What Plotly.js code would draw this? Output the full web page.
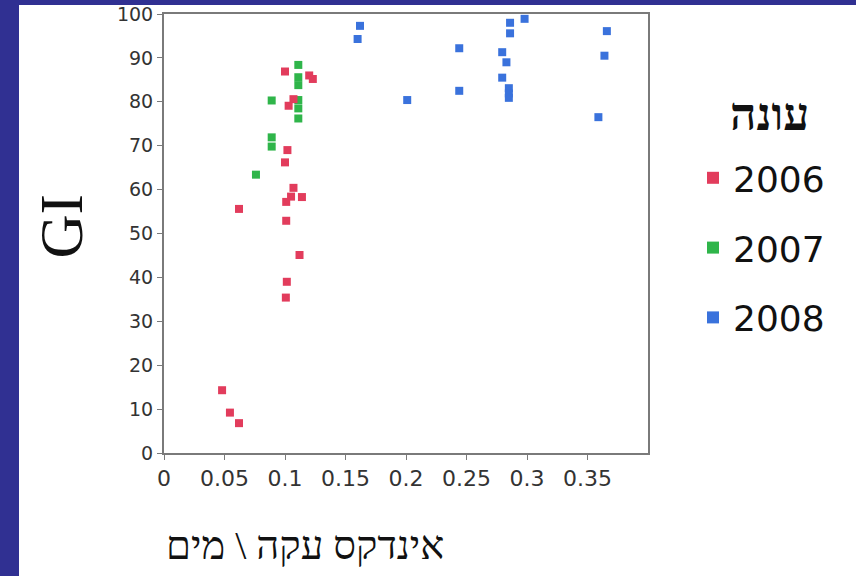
<!DOCTYPE html>
<html>
<head>
<meta charset="utf-8">
<script src="https://cdn.plot.ly/plotly-3.0.1.min.js"></script>
<style>
  html, body { margin: 0; padding: 0; background: #303092; width: 856px; height: 576px; overflow: hidden; }
  #chart { position: absolute; left: 19px; top: 5px; width: 837px; height: 571px; background: #ffffff; }
  #chart svg.main-svg { overflow: visible; }
</style>
</head>
<body>
<div id="chart"></div>
<script>
// Season 2006
const x2006 = [0.100, 0.120, 0.123, 0.107, 0.103, 0.102, 0.100, 0.107, 0.105, 0.114, 0.101, 0.062, 0.101, 0.112, 0.1015, 0.1007, 0.048, 0.0545, 0.062];
const y2006 = [86.9, 86.0, 85.2, 80.6, 79.1, 69.0, 66.2, 60.4, 58.4, 58.3, 57.2, 55.6, 52.9, 45.1, 39.0, 35.4, 14.3, 9.2, 6.8];
// Season 2007
const x2007 = [0.111, 0.111, 0.111, 0.089, 0.111, 0.111, 0.111, 0.089, 0.089, 0.076];
const y2007 = [88.4, 85.6, 83.8, 80.3, 80.4, 78.5, 76.2, 71.9, 69.8, 63.4];
// Season 2008
const x2008 = [0.162, 0.160, 0.244, 0.244, 0.201, 0.286, 0.286, 0.298, 0.2795, 0.283, 0.2795, 0.285, 0.285, 0.285, 0.366, 0.364, 0.359];
const y2008 = [97.3, 94.3, 92.2, 82.5, 80.4, 98.0, 95.6, 98.9, 91.3, 89.0, 85.5, 83.1, 81.9, 80.9, 96.1, 90.5, 76.5];

const seasonNames = ['2006', '2007', '2008'];
const legendTitle = 'עונה';
const xTitle = 'אינדקס עקה \\ מים';
const yTitle = 'GI';
const xTickVals = [0, 0.05, 0.1, 0.15, 0.2, 0.25, 0.3, 0.35];
const xTickText = ['0', '0.05', '0.1', '0.15', '0.2', '0.25', '0.3', '0.35'];
const yTickVals = [0, 10, 20, 30, 40, 50, 60, 70, 80, 90, 100];

const colors = ['#e23c5c', '#2fb54a', '#3a72dc'];

function trace(x, y, i) {
  return {
    type: 'scatter', mode: 'markers', x: x, y: y, name: seasonNames[i],
    legendgroup: 'g' + i, legendrank: i + 1,
    marker: { symbol: 'square', size: 8, color: colors[i] },
    hoverinfo: 'x+y'
  };
}

const data = [trace(x2007, y2007, 1), trace(x2006, y2006, 0), trace(x2008, y2008, 2)];

const axisCommon = {
  showgrid: false, zeroline: false, showline: true, linecolor: '#7a7a7a', linewidth: 2,
  mirror: true, ticks: 'outside', ticklen: 5, tickwidth: 1, tickcolor: '#7a7a7a',
  ticklabeloverflow: 'allow'
};

const layout = {
  width: 837, height: 571,
  margin: { l: 145, r: 208, t: 9, b: 123 },
  paper_bgcolor: '#ffffff', plot_bgcolor: '#ffffff',
  showlegend: true,
  xaxis: Object.assign({}, axisCommon, { range: [0, 0.4], tickvals: xTickVals, ticktext: xTickText,
    tickfont: { family: 'DejaVu Sans, Arial, sans-serif', size: 22, color: '#333' } }),
  yaxis: Object.assign({}, axisCommon, { range: [0, 100], tickvals: yTickVals,
    tickfont: { family: 'DejaVu Sans, Arial, sans-serif', size: 19, color: '#333' } }),
  legend: {
    x: 1.093, xanchor: 'left', y: 0.695, yanchor: 'top',
    font: { family: 'DejaVu Sans, Arial, sans-serif', size: 36, color: '#111' },
    tracegroupgap: 20, itemsizing: 'constant'
  },
  annotations: [
    { text: legendTitle, xref: 'paper', yref: 'paper', x: 1.252, y: 0.77, xanchor: 'center', yanchor: 'middle',
      showarrow: false, font: { family: 'Liberation Serif, serif', size: 46, color: '#111', weight: 'bold' } },
    { text: xTitle, xref: 'paper', yref: 'paper', x: 0, y: 0, xanchor: 'left', yanchor: 'top', yshift: -68,
      showarrow: false, font: { family: 'Liberation Serif, serif', size: 40, color: '#111' } },
    { text: yTitle, xref: 'paper', yref: 'paper', x: 0, y: 0.5, xanchor: 'center', yanchor: 'middle', xshift: -103, yshift: 7,
      textangle: -90, showarrow: false, font: { family: 'Liberation Serif, serif', size: 61, color: '#111' } }
  ]
};

Plotly.newPlot('chart', data, layout, { displayModeBar: false, staticPlot: true });
</script>
</body>
</html>
